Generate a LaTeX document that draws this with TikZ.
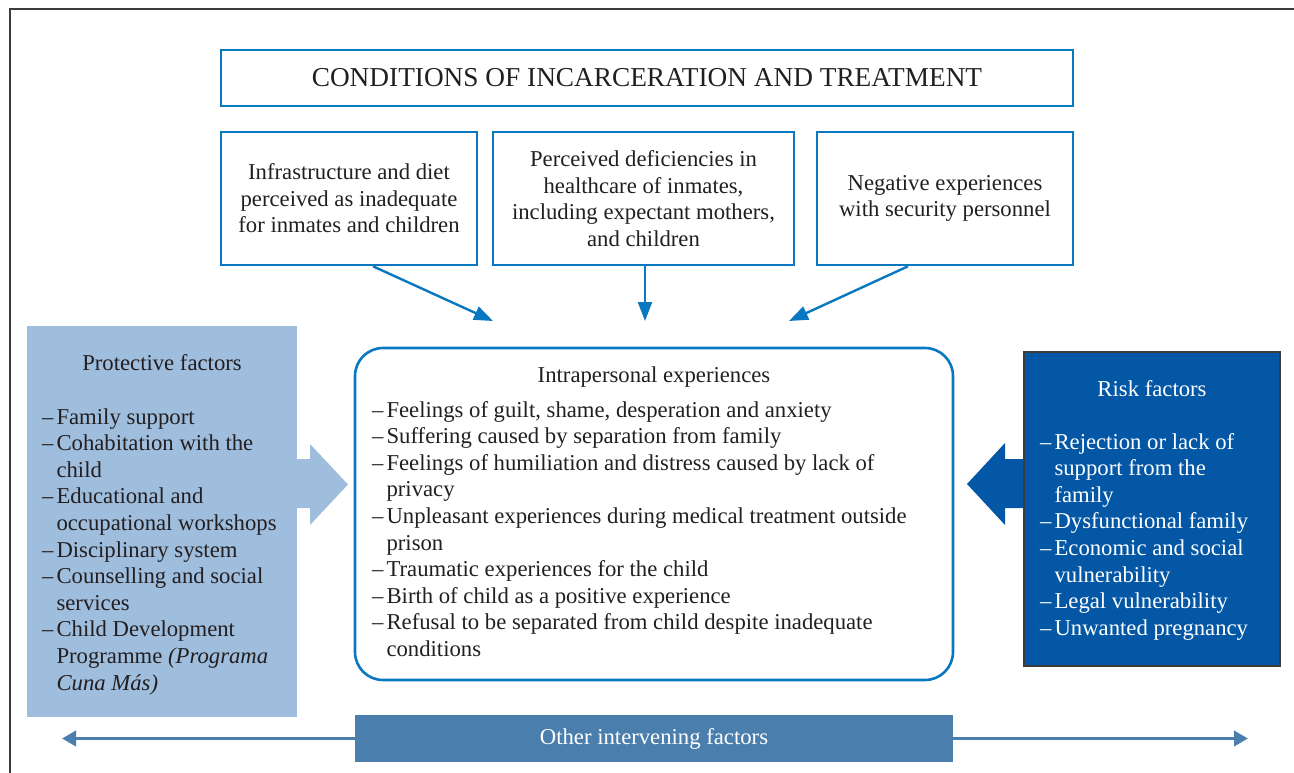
\documentclass[tikz,border=0pt]{standalone}
\usepackage{fontspec}
\setmainfont{Liberation Serif}
\usetikzlibrary{arrows.meta,calc}

\definecolor{ink}{HTML}{231F20}
\definecolor{lineblue}{HTML}{0A77C1}
\definecolor{protfill}{HTML}{9FBDDD}
\definecolor{riskfill}{HTML}{0357A5}
\definecolor{otherfill}{HTML}{4A7EAC}
\definecolor{framegray}{HTML}{3C3C3C}

\newcommand\bodyfont{\fontsize{22.7}{26.6}\selectfont}
\newcommand\headfont{\fontsize{27.3}{32}\selectfont}
% two-column list: dash, then item text with hanging lines
\newenvironment{dashlist}{\begin{tabular}[t]{@{}l@{\hspace{3pt}}l@{}}}{\end{tabular}}
\newcommand\itm{–&}

\tikzset{
  boxline/.style={draw=lineblue, line width=2.6pt, inner sep=0pt, align=center, font=\bodyfont, text=ink},
  conn/.style={draw=lineblue, line width=2.4pt, -{Triangle[length=19pt,width=14pt]}},
  listtext/.style={anchor=base west, inner sep=0pt, font=\bodyfont},
  heading/.style={anchor=base, inner sep=0pt, font=\bodyfont},
  bothways/.style={draw=otherfill, line width=3.5pt, -{Triangle[length=14pt,width=15pt]}},
}

\begin{document}
\begin{tikzpicture}[x=1pt, y=-1pt]
\useasboundingbox (0,0) rectangle (1294,773);

% outer frame (left and top edges)
\draw[framegray, line width=1.6pt] (10,773) -- (10,9) -- (1294,9);

% heading box
\node[boxline, minimum width=852pt, minimum height=56pt, font=\headfont] (cond) at (647,78)
  {CONDITIONS OF INCARCERATION AND TREATMENT};

% three condition boxes
\node[boxline, minimum width=256pt, minimum height=133pt] (infra) at (349,198.5)
  {Infrastructure and diet\\perceived as inadequate\\for inmates and children};
\node[boxline, minimum width=301pt, minimum height=133pt] (health) at (643.5,198.5)
  {Perceived deficiencies in\\healthcare of inmates,\\including expectant mothers,\\and children};
\node[boxline, minimum width=256pt, minimum height=133pt] (secur) at (945,198.5)
  {Negative experiences\\with security personnel};

% central box
\node[draw=lineblue, line width=2.6pt, rounded corners=28pt, minimum width=598pt, minimum height=332pt] (intra) at (654,514) {};
\node[heading, text=ink] (intrahead) at (654,382) {Intrapersonal experiences};
\node[listtext, text=ink] (intralist) at (372,417) {\begin{dashlist}
\itm Feelings of guilt, shame, desperation and anxiety\\
\itm Suffering caused by separation from family\\
\itm Feelings of humiliation and distress caused by lack of\\
 & privacy\\
\itm Unpleasant experiences during medical treatment outside\\
 & prison\\
\itm Traumatic experiences for the child\\
\itm Birth of child as a positive experience\\
\itm Refusal to be separated from child despite inadequate\\
 & conditions
\end{dashlist}};

% arrows from the condition boxes
\coordinate (t1) at (493,321);
\coordinate (t2) at (645,321);
\coordinate (t3) at (789,321);
\draw[conn] (infra.south -| 373,0) -- (t1);
\draw[conn] (health.south -| 645,0) -- (t2);
\draw[conn] (secur.south -| 908,0) -- (t3);

% protective factors
\node[fill=protfill, inner sep=0pt, minimum width=270pt, minimum height=391pt] (prot) at (162,521.5) {};
\fill[protfill] (296,459) -- (310,459) -- (310,444) -- (348,484.5) -- (310,525) -- (310,508) -- (296,508) -- cycle;
\node[heading, text=ink] (prothead) at (162,370) {Protective factors};
\node[listtext, text=ink] (protlist) at (42,424) {\begin{dashlist}
\itm Family support\\
\itm Cohabitation with the\\
 & child\\
\itm Educational and\\
 & occupational workshops\\
\itm Disciplinary system\\
\itm Counselling and social\\
 & services\\
\itm Child Development\\
 & Programme \textit{(Programa}\\
 & \textit{Cuna Más)}
\end{dashlist}};

% risk factors
\fill[riskfill] (1025,459) -- (1005,459) -- (1005,443) -- (967,484) -- (1005,525) -- (1005,508) -- (1025,508) -- cycle;
\node[fill=riskfill, draw=framegray, line width=1.2pt, inner sep=0pt, minimum width=256pt, minimum height=314pt] (risk) at (1152,509) {};
\node[heading, text=white] (riskhead) at (1152,396) {Risk factors};
\node[listtext, text=white] (risklist) at (1040,449) {\begin{dashlist}
\itm Rejection or lack of\\
 & support from the\\
 & family\\
\itm Dysfunctional family\\
\itm Economic and social\\
 & vulnerability\\
\itm Legal vulnerability\\
\itm Unwanted pregnancy
\end{dashlist}};

% other intervening factors
\node[fill=otherfill, inner sep=0pt, minimum width=598pt, minimum height=47pt, font=\bodyfont, text=white] (other) at (654,738.5) {Other intervening factors};
\coordinate (leftend) at (62,738.5);
\coordinate (rightend) at (1248,738.5);
\draw[bothways] (other.west) -- (leftend);
\draw[bothways] (other.east) -- (rightend);
\end{tikzpicture}
\end{document}
